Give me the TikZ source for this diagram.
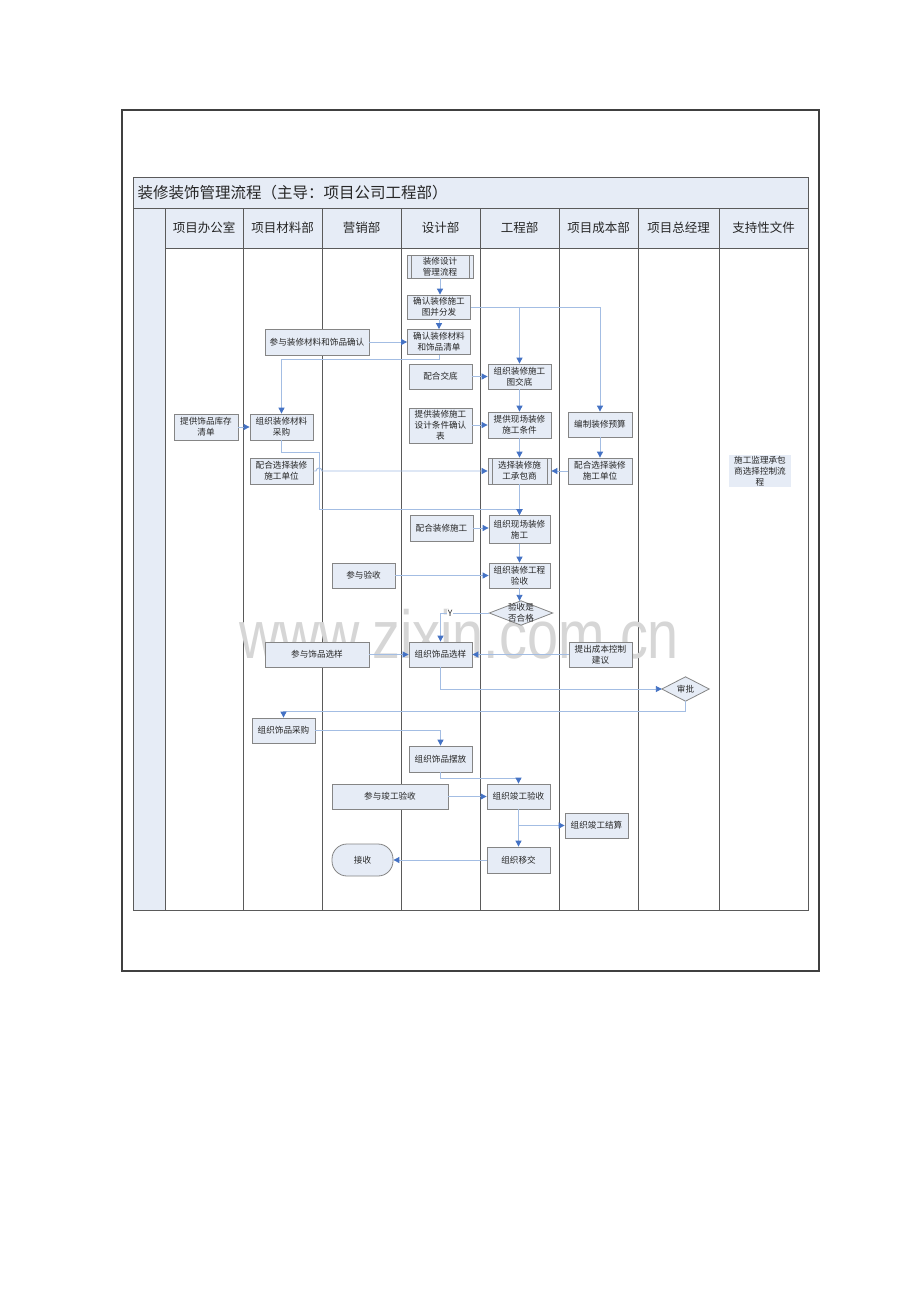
\documentclass[tikz,border=0pt]{standalone}
\usepackage{fontspec}
\setmainfont{Noto Sans CJK SC}
\newfontfamily\wmfont{Liberation Sans}
\usetikzlibrary{arrows.meta}
\definecolor{boxfill}{HTML}{E6ECF6}
\definecolor{boxline}{HTML}{858585}
\definecolor{flowline}{HTML}{A3BDE3}
\definecolor{tipblue}{HTML}{4472C4}
\definecolor{gridline}{HTML}{5A5A5A}
\definecolor{framecol}{HTML}{404040}
\definecolor{wmcol}{HTML}{D6D6D6}
\begin{document}
\begin{tikzpicture}[x=1pt,y=-1pt,
  box/.style={draw=boxline, fill=boxfill, line width=0.8pt, inner sep=1pt, align=center,
    font=\fontsize{8.6}{11}\selectfont, text=black!85},
  sz/.style 2 args={minimum width=#1pt, minimum height=#2pt},
  sub/.style={box, path picture={\draw[boxline,line width=0.6pt]
      ([xshift=4pt]path picture bounding box.north west) -- ([xshift=4pt]path picture bounding box.south west)
      ([xshift=-4pt]path picture bounding box.north east) -- ([xshift=-4pt]path picture bounding box.south east);}},
  flow/.style={draw=flowline, line width=0.9pt, -{Triangle[width=6pt,length=6pt,color=tipblue]}},
  hdr/.style={font=\fontsize{12.5}{15}\selectfont, text=black!85},
  grid/.style={draw=gridline, line width=0.7pt},
]
\useasboundingbox (0,0) rectangle (920,1302);
\fill[white] (0,0) rectangle (920,1302);
% outer frame
\draw[framecol, line width=1.2pt] (122,110) rectangle (819,971);
% table backgrounds
\fill[boxfill] (133,177) rectangle (808,248);
\fill[boxfill] (133,208) rectangle (165,910);
% table grid
\draw[grid] (133,177) rectangle (808,910);
\draw[grid] (133,208) -- (808,208);
\draw[grid] (165,248) -- (808,248);
\foreach \xx in {165,243,322,401,480,559,638,719} \draw[grid] (\xx,208) -- (\xx,910);
% title and headers
\node[anchor=west, font=\fontsize{15.5}{18}\selectfont, text=black!85] (title) at (134,192.5) {装修装饰管理流程（主导：项目公司工程部）};
\node[hdr] (h1) at (204,228) {项目办公室};
\node[hdr] (h2) at (282.5,228) {项目材料部};
\node[hdr] (h3) at (361.5,228) {营销部};
\node[hdr] (h4) at (440.5,228) {设计部};
\node[hdr] (h5) at (519.5,228) {工程部};
\node[hdr] (h6) at (598.5,228) {项目成本部};
\node[hdr] (h7) at (678.5,228) {项目总经理};
\node[hdr] (h8) at (763.5,228) {支持性文件};
% watermark
\node[font=\wmfont\fontsize{68}{68}\selectfont, text=wmcol, xscale=0.82] (wm) at (459,634) {www.zixin.com.cn};
% nodes
\node[sub, sz={66}{23}] (n1) at (440,266.5) {装修设计\\管理流程};
\node[box, sz={63}{24}] (n2) at (439,307) {确认装修施工\\图并分发};
\node[box, sz={63}{25}] (n3) at (439,342) {确认装修材料\\和饰品清单};
\node[box, sz={104}{26}] (n4) at (317,342) {参与装修材料和饰品确认};
\node[box, sz={63}{25}] (n5) at (440.5,376.5) {配合交底};
\node[box, sz={63}{25}] (n6) at (519.5,376.5) {组织装修施工\\图交底};
\node[box, sz={63}{35}] (n7) at (440.5,425.5) {提供装修施工\\设计条件确认\\表};
\node[box, sz={63}{26}] (n8) at (519.5,425) {提供现场装修\\施工条件};
\node[box, sz={64}{25}] (n9) at (600,424.5) {编制装修预算};
\node[box, sz={64}{26}] (n10) at (206,427) {提供饰品库存\\清单};
\node[box, sz={63}{26}] (n11) at (281.5,427) {组织装修材料\\采购};
\node[box, sz={63}{26}] (n12) at (281.5,471) {配合选择装修\\施工单位};
\node[sub, sz={63}{26}] (n13) at (519.5,471) {选择装修施\\工承包商};
\node[box, sz={64}{26}] (n14) at (600,471) {配合选择装修\\施工单位};
\node[box, draw=none, sz={62}{32}] (n15) at (760,471) {施工监理承包\\商选择控制流\\程};
\node[box, sz={63}{26}] (n16) at (441.5,528) {配合装修施工};
\node[box, sz={61}{28}] (n17) at (519.5,529.5) {组织现场装修\\施工};
\node[box, sz={63}{25}] (n18) at (363.5,575.5) {参与验收};
\node[box, sz={61}{25}] (n19) at (519.5,575.5) {组织装修工程\\验收};
\node[sz={63}{24}, inner sep=0pt] (n20) at (521,613) {};
\draw[boxline, fill=boxfill, line width=0.8pt] (n20.west) -- (n20.north) -- (n20.east) -- (n20.south) -- cycle;
\node[align=center, font=\fontsize{8.6}{11}\selectfont, text=black!85] (n20t) at (n20.center) {验收是\\否合格};
\node[box, sz={104}{25}] (n21) at (317,654.5) {参与饰品选样};
\node[box, sz={63}{25}] (n22) at (440.5,654.5) {组织饰品选样};
\node[box, sz={63}{25}] (n23) at (600.5,654.5) {提出成本控制\\建议};
\node[sz={47}{24}, inner sep=0pt] (n24) at (685.5,689) {};
\draw[boxline, fill=boxfill, line width=0.8pt] (n24.west) -- (n24.north) -- (n24.east) -- (n24.south) -- cycle;
\node[font=\fontsize{8.6}{11}\selectfont, text=black!85] (n24t) at (n24.center) {审批};
\node[box, sz={63}{25}] (n25) at (283.5,730.5) {组织饰品采购};
\node[box, sz={63}{26}] (n26) at (440.5,759) {组织饰品摆放};
\node[box, sz={116}{25}] (n27) at (390,796.5) {参与竣工验收};
\node[box, sz={63}{25}] (n28) at (518.5,796.5) {组织竣工验收};
\node[box, sz={63}{25}] (n29) at (596.5,825.5) {组织竣工结算};
\node[box, sz={61}{32}, rounded corners=15pt] (n30) at (362.5,860) {接收};
\node[box, sz={63}{26}] (n31) at (518.5,860) {组织移交};
% connectors
\draw[flow] (n1.south) -- (n1.south |- n2.north);
\draw[flow] (n2.south) -- (n3.north);
\draw[flow] (n4.east) -- (n3.west);
\draw[flow] (n3.south) -- ++(0,5) -| (n11.north);
\draw[flow] (n2.east) -| (n6.north);
\draw[flow] (n2.east) -| (n9.north);
\draw[flow] (n5.east) -- (n6.west);
\draw[flow] (n6.south) -- (n8.north);
\draw[flow] (n7.east |- n8.west) -- (n8.west);
\draw[flow] (n8.south) -- (n13.north);
\draw[flow] (n9.south) -- (n14.north);
\draw[flow] (n14.west) -- (n13.east);
\draw[flow] (n12.east) -- (316,471) arc[start angle=180, end angle=0, radius=3pt] -- (n13.west);
\draw[flow] (n11.south) -- ++(0,12) -| (319,509) -| (n17.north);
\draw[flow] (n13.south) -- (n17.north);
\draw[flow] (n16.east) -- (n16.east -| n17.west);
\draw[flow] (n17.south) -- (n19.north);
\draw[flow] (n18.east) -- (n19.west);
\draw[flow] (n19.south) -- (n19.south |- n20.north);
\draw[flow] (n20.west) -| node[pos=0.4, fill=white, inner sep=0.6pt, font=\fontsize{8.6}{10}\selectfont, text=black!85] {Y} (n22.north);
\draw[flow] (n21.east) -- (n22.west);
\draw[flow] (n23.west) -- (n22.east);
\draw[flow] (n22.south) |- (n24.west);
\draw[flow] (n24.south) -- ++(0,10) -| (n25.north);
\draw[flow] (n25.east) -| (n26.north);
\draw[flow] (n26.south) -- ++(0,6) -| (n28.north);
\draw[flow] (n27.east) -- (n28.west);
\draw[flow] (n28.south) -- (n31.north);
\draw[flow] (n28.south |- n29.west) -- (n29.west);
\draw[flow] (n31.west) -- (n30.east);
\draw[flow] (n10.east) -- (n11.west);
\end{tikzpicture}
\end{document}
